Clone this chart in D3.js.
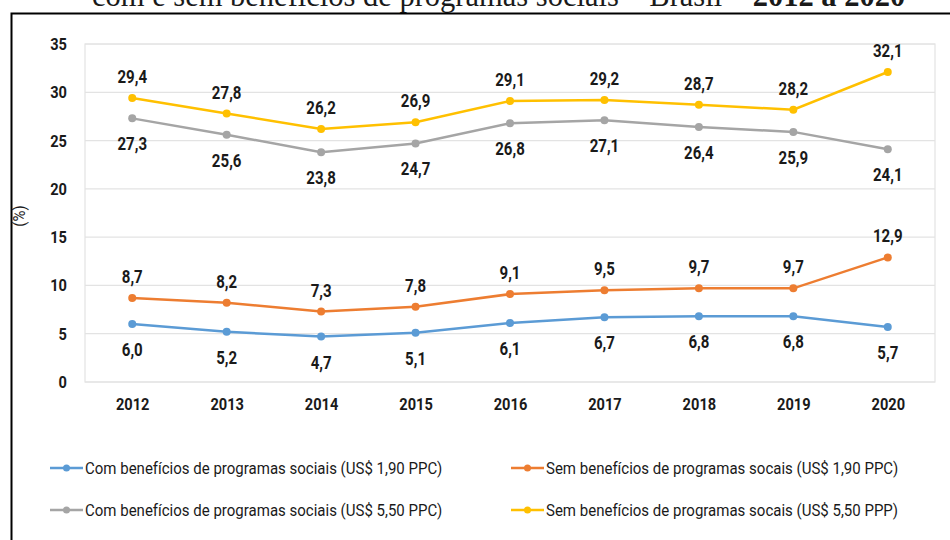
<!DOCTYPE html>
<meta charset="utf-8">
<style>
body { margin: 0; background: #fff; }
svg text { font-family: "Roboto", "DejaVu Sans Condensed", sans-serif; fill: #1a1a1a; }
.title { font-family: "Liberation Serif", "DejaVu Serif", serif !important; font-size: 30.5px; }
.tick text { font-size: 17px; font-weight: bold; }
.lbl { font-size: 17.5px; font-weight: bold; }
.leg { font-size: 16.5px; }
</style>
<body>
<script src="https://d3js.org/d3.v7.min.js"></script>
<script>

// data
var years = ["2012", "2013", "2014", "2015", "2016", "2017", "2018", "2019", "2020"];
var comBen190 = [6.0, 5.2, 4.7, 5.1, 6.1, 6.7, 6.8, 6.8, 5.7];
var semBen190 = [8.7, 8.2, 7.3, 7.8, 9.1, 9.5, 9.7, 9.7, 12.9];
var comBen550 = [27.3, 25.6, 23.8, 24.7, 26.8, 27.1, 26.4, 25.9, 24.1];
var semBen550 = [29.4, 27.8, 26.2, 26.9, 29.1, 29.2, 28.7, 28.2, 32.1];
var yTicks = [0, 5, 10, 15, 20, 25, 30, 35];

var series = [
  {name: "Com benefícios de programas sociais (US$ 1,90 PPC)", values: comBen190, color: "#5b9bd5", pos: "below"},
  {name: "Sem benefícios de programas socais (US$ 1,90 PPC)", values: semBen190, color: "#ed7d31", pos: "above"},
  {name: "Com benefícios de programas sociais (US$ 5,50 PPC)", values: comBen550, color: "#a5a5a5", pos: "below"},
  {name: "Sem benefícios de programas socais (US$ 5,50 PPP)", values: semBen550, color: "#ffc000", pos: "above"}
];

// the original font is condensed, squeeze text horizontally
var squeeze = 0.86, squeezeLeg = 0.91;

var W = 950, H = 540;
var margin = {top: 44, right: 15, bottom: 158, left: 85},
    width = W - margin.left - margin.right,
    height = H - margin.top - margin.bottom;

var svg = d3.select("body").append("svg")
    .attr("width", W)
    .attr("height", H);

// cut-off title at the top
var title = svg.append("text")
    .attr("class", "title")
    .attr("x", 92)
    .attr("y", 6)
    .attr("fill", "#222");
title.append("tspan").text("com e sem benefícios de programas sociais – Brasil – ");
title.append("tspan").attr("font-weight", "bold").text("2012 a 2020");

// outer frame (only top and left visible)
svg.append("path")
    .attr("d", "M11.5,540 V13.5 H950")
    .attr("fill", "none")
    .attr("stroke", "#000")
    .attr("stroke-width", 2);

var g = svg.append("g")
    .attr("transform", "translate(" + margin.left + "," + margin.top + ")");

var x = d3.scalePoint().domain(years).range([0, width]).padding(0.5);
var y = d3.scaleLinear().domain([0, 35]).range([height, 0]);

// gridlines
g.selectAll(".grid")
    .data(yTicks)
  .enter().append("line")
    .attr("x1", 0).attr("x2", width)
    .attr("y1", function(d) { return y(d); })
    .attr("y2", function(d) { return y(d); })
    .attr("stroke", "#e3e3e3")
    .attr("stroke-width", 1.2);

// plot area border
g.append("rect")
    .attr("width", width).attr("height", height)
    .attr("fill", "none")
    .attr("stroke", "#e3e3e3")
    .attr("stroke-width", 1.2);

// axes
var yAxis = g.append("g")
    .call(d3.axisLeft(y).tickValues(yTicks).tickSize(0).tickPadding(21));
yAxis.select(".domain").remove();
yAxis.selectAll(".tick text")
    .attr("transform", "scale(" + squeeze + ",1)");

var xAxis = g.append("g")
    .attr("transform", "translate(0," + height + ")")
    .call(d3.axisBottom(x).tickSize(0).tickPadding(16));
xAxis.select(".domain").remove();
xAxis.selectAll(".tick text")
    .attr("transform", "scale(" + squeeze + ",1)");

svg.append("text")
    .attr("class", "leg")
    .attr("transform", "translate(25,216) rotate(-90) scale(" + squeezeLeg + ",1)")
    .attr("text-anchor", "middle")
    .text("(%)");

var line = d3.line()
    .x(function(d, i) { return x(years[i]); })
    .y(function(d) { return y(d); });

series.forEach(function(s) {
  g.append("path")
      .datum(s.values)
      .attr("fill", "none")
      .attr("stroke", s.color)
      .attr("stroke-width", 2.5)
      .attr("d", line);

  g.selectAll(null)
      .data(s.values)
    .enter().append("circle")
      .attr("cx", function(d, i) { return x(years[i]); })
      .attr("cy", function(d) { return y(d); })
      .attr("r", 4)
      .attr("fill", s.color);

  g.selectAll(null)
      .data(s.values)
    .enter().append("text")
      .attr("class", "lbl")
      .attr("text-anchor", "middle")
      .attr("transform", function(d, i) {
        var ty = y(d) + (s.pos == "above" ? -15 : 32);
        return "translate(" + x(years[i]) + "," + ty + ") scale(" + squeeze + ",1)";
      })
      .text(function(d) { return d.toFixed(1).replace(".", ","); });
});

// legend
var legPos = [[50, 468], [511, 468], [50, 510], [511, 510]];
series.forEach(function(s, i) {
  var lg = svg.append("g")
      .attr("transform", "translate(" + legPos[i][0] + "," + legPos[i][1] + ")");
  lg.append("line")
      .attr("x1", 0).attr("x2", 33)
      .attr("stroke", s.color)
      .attr("stroke-width", 2.5);
  lg.append("circle")
      .attr("cx", 16.5)
      .attr("r", 3.5)
      .attr("fill", s.color);
  lg.append("text")
      .attr("class", "leg")
      .attr("transform", "translate(35,6) scale(" + squeezeLeg + ",1)")
      .text(s.name);
});

</script>
</body>
